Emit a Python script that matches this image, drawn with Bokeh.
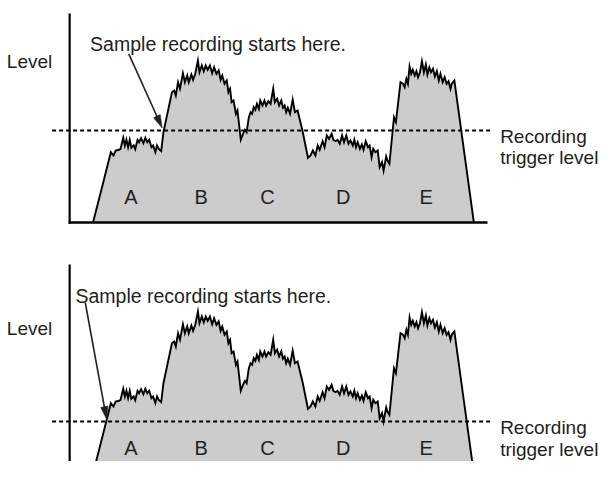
import numpy as np
from bokeh.plotting import figure
from bokeh.layouts import column
from bokeh.models import Range1d
from bokeh.core.properties import value
from bokeh.embed import file_html
from bokeh.resources import INLINE

# ---- waveform (same signal shown in both panels) ----
time = [95, 106, 113.3, 116, 118.3, 121.7, 123.3, 126, 127.7, 129.3, 131, 132.7, 134.3,
        136.7, 138.3, 140.7, 142.3, 144.3, 146.7, 148.7, 150.7, 152.7, 155, 156.7, 159,
        160.7, 162.7, 165, 167.3, 176, 178.3, 180, 182.3, 184.3, 187.3, 189.3, 191.7,
        193.3, 196, 197.7, 200, 202.7, 204.3, 206.7, 208.7, 210.7, 212.7, 215, 217.3,
        219.3, 221.7, 224, 226, 227.7, 230, 232.3, 234, 235.7, 237.3, 239.3, 241.7,
        243.3, 246.7, 249.3, 251, 252.7, 255, 256.7, 258.3, 260, 261.7, 263.3, 265.3,
        266.7, 269, 271, 272.7, 275, 277.3, 280, 281.7, 284, 286, 288.3, 290, 291.7,
        293.3, 295, 297.3, 300, 302.3, 305, 310, 315.7, 318.3, 320.7, 323.3, 325.7,
        327.7, 330.7, 332.7, 335, 337.3, 340, 341.7, 344, 346, 348.3, 350.7, 352.7, 355,
        357.3, 359.3, 361.7, 363.3, 365, 366.7, 369, 371, 372.7, 375, 377.3, 379, 381,
        382.7, 385, 387.3, 389.3, 391.7, 393.3, 396, 397.3, 399.3, 404, 406, 410.7,
        413.3, 415, 416.7, 418.3, 420, 421.7, 423.3, 425.3, 427, 428.7, 430.7, 432.7,
        434.7, 436.7, 438.3, 440.3, 442, 444, 446, 448, 450, 451.7, 454, 456, 458, 460,
        462, 463.3, 466, 486]
level = [0, 42, 70.3, 67, 72, 72.7, 73.7, 84.7, 77, 82.7, 75.3, 82.7, 74.7,
         77, 73.3, 82.7, 80.3, 84.3, 79.3, 84.7, 80.3, 82.7, 75.3, 77, 70.3,
         77, 73.3, 71.3, 90.3, 130.3, 132, 127, 140.3, 133.7, 149.3, 140.3, 147,
         140.3, 148, 142.7, 148.7, 162, 150.3, 157, 151.3, 157, 152.7, 157, 149.3,
         155.3, 148.7, 152, 142.7, 147, 138.7, 142, 130.3, 133.7, 120.3, 122, 108.7,
         112, 82.7, 89.3, 92.7, 90.3, 105.3, 110.3, 108.7, 115.3, 112.7, 118.7, 113.7,
         122, 117, 122, 117, 121.3, 118.7, 133.7, 120.3, 123.7, 117, 122, 114.7, 117,
         110.3, 114.7, 108.7, 122.7, 110.3, 112, 92, 64.7, 67, 72, 67, 77,
         72.7, 81.3, 75.3, 87, 83.7, 88.7, 82.7, 81.3, 82.7, 78.7, 87, 80.3, 87,
         78.7, 82, 77, 82.7, 75.3, 80.3, 73.7, 78, 72.7, 81.3, 75.3, 77, 65.3,
         73.7, 70.3, 72, 55.3, 60.3, 52, 66, 62, 58.7, 105.3, 100.3, 140.3,
         138.7, 135.3, 143.7, 138.7, 156, 148.7, 152.7, 147, 151.3, 145.3, 150.3, 161.3,
         150.3, 158, 148, 155.3, 150.3, 153.7, 146, 151.3, 142, 148.7, 140.3, 145.3, 138.7, 141.3,
         133.7, 138.7, 142, 0]

segment_labels = ["A", "B", "C", "D", "E"]
segment_time = [134, 206, 274, 352, 437]

trigger_levels = [92, 52]          # top panel, bottom panel
trigger_time_span = [53, 503]

ink = "#231f20"
FONT = value("Liberation Sans")


def arrow(p, tail, tip, length=13.0, half=3.8):
    t = np.array(tail, float)
    h = np.array(tip, float)
    d = (h - t) / np.linalg.norm(h - t)
    base = h - d * length
    perp = np.array([-d[1], d[0]])
    p.line([t[0], base[0] + d[0] * 2], [t[1], base[1] + d[1] * 2], line_color=ink, line_width=1.6)
    pts = [h, base + perp * half, base - perp * half]
    p.patch([q[0] for q in pts], [q[1] for q in pts], fill_color=ink, line_color=ink, line_width=0.5)


def panel(height, y0, y1, trig, tail, tip, level_y, sample_x, sample_y,
          rec_y, trig_y, seg_y, x_axis):
    p = figure(width=599, height=height, x_range=Range1d(0, 615), y_range=Range1d(y0, y1),
               toolbar_location=None, output_backend="svg", min_border=0,
               x_axis_location=None, y_axis_location=None,
               outline_line_color=None, background_fill_color="white",
               border_fill_color="white")
    p.grid.visible = False

    p.varea(x=time, y1=0, y2=level, fill_color="#cccccc")
    p.line(time, level, line_color="black", line_width=1.9, line_join="miter")

    # level axis
    p.line([71, 71], [-20 if not x_axis else -1.3, 209], line_color="black", line_width=2.2)
    if x_axis:
        p.line([70, 500], [0, 0], line_color="black", line_width=2.6)

    # trigger level
    p.line(trigger_time_span, [trig, trig], line_color="black", line_width=1.8,
           line_dash="4 3")

    arrow(p, tail, tip)

    p.text(x=[6.5], y=[level_y], text=["Level"], text_font=FONT, text_font_size="19px",
           text_color=ink, text_baseline="alphabetic", text_align="left")
    p.text(x=[sample_x], y=[sample_y], text=["Sample recording starts here."], text_font=FONT,
           text_font_size="19.5px", text_color=ink, text_baseline="alphabetic", text_align="left")
    p.text(x=[513, 513], y=[rec_y, trig_y], text=["Recording", "trigger level"], text_font=FONT,
           text_font_size="19px", text_color=ink, text_baseline="alphabetic", text_align="left")
    p.text(x=segment_time, y=[seg_y] * len(segment_time), text=segment_labels, text_font=FONT,
           text_font_size="20px", text_color=ink, text_baseline="alphabetic", text_align="center")
    return p


top = panel(234, -12, 222, trigger_levels[0], (131.7, 168.7), (166, 94.5), 161.3, 92, 178.7,
            86, 64.7, 25.3, True)
bottom = panel(227, 12, 239, trigger_levels[1], (87, 171), (109, 54), 145, 77, 178,
               46.3, 24, 25.7, False)

layout = column(top, bottom, spacing=0)
open("out.html", "w").write(file_html(layout, INLINE))
